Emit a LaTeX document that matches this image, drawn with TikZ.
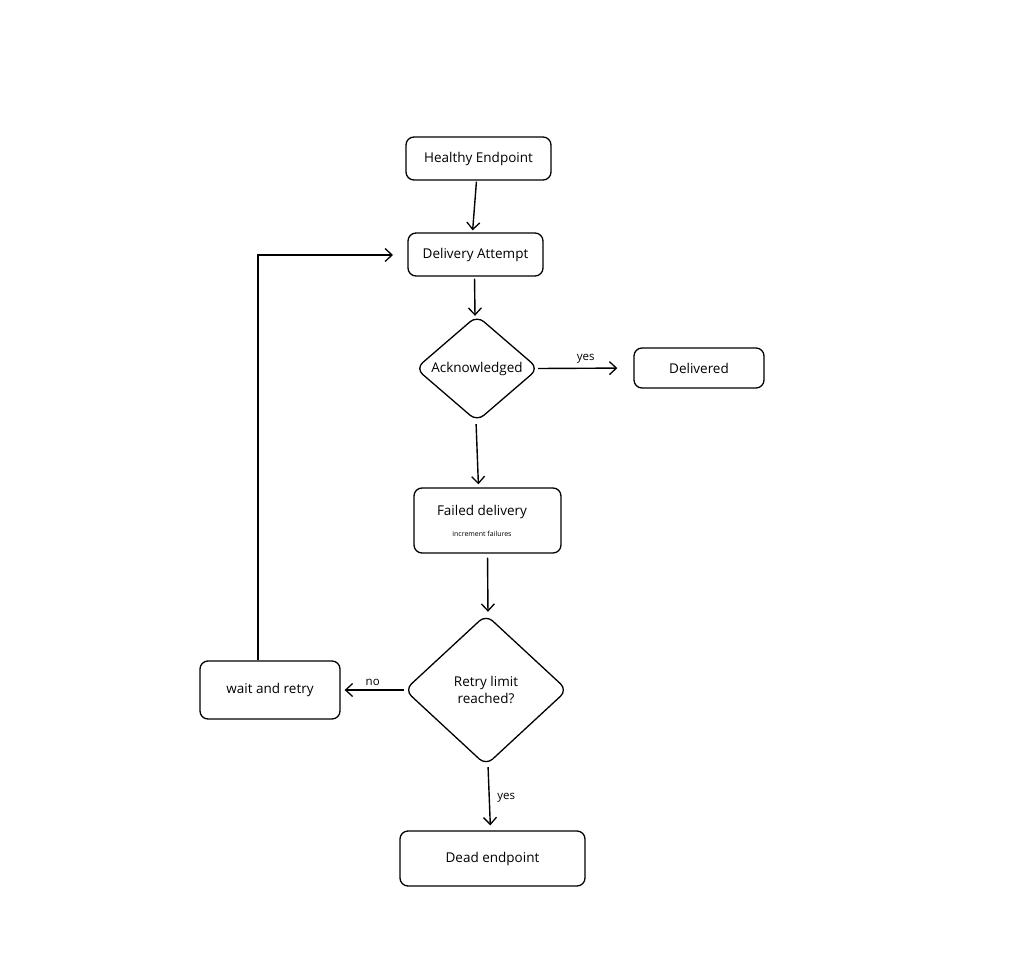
\documentclass[tikz,border=0pt]{standalone}
\usepackage{fontspec}
\setmainfont{Open Sans}
\usetikzlibrary{arrows.meta}
\begin{document}
\begin{tikzpicture}[x=1pt,y=-1pt,
  every node/.style={font=\fontsize{13.5}{17}\selectfont},
  box/.style={draw, line width=1.3pt, rounded corners=8pt, align=center, inner sep=0pt},
  dia/.style={draw=none, align=center, inner sep=0pt},
  dshape/.style={draw, line width=1.3pt, rounded corners=9pt},
  conn/.style={line width=1.4pt, -{Straight Barb[length=7pt,width=13pt,line width=1.3pt]}},
  lbl/.style={font=\fontsize{11.5}{13}\selectfont}
]
\useasboundingbox (0,0) rectangle (1024,968);

\node[box, minimum width=145pt, minimum height=43pt] (hea) at (478.5,158.5) {Healthy Endpoint};
\node[box, minimum width=135pt, minimum height=43pt] (del) at (475.5,254.5) {Delivery Attempt};
\node[dia, minimum width=122pt, minimum height=105pt] (ack) at (477,368.5) {Acknowledged};
\draw[dshape] (ack.north) -- (ack.east) -- (ack.south) -- (ack.west) -- cycle;
\node[box, minimum width=130pt, minimum height=40pt] (dlv) at (699,368) {Delivered};
\node[box, minimum width=147pt, minimum height=65pt] (fail) at (487.5,520.5) {};
\node (failt) at (482,512) {Failed delivery};
\node[font=\fontsize{7}{8}\selectfont] (failsub) at (482,534) {increment failures};
\node[dia, minimum width=162pt, minimum height=150pt] (ret) at (486,690) {Retry limit\\reached?};
\draw[dshape] (ret.north) -- (ret.east) -- (ret.south) -- (ret.west) -- cycle;
\node[box, minimum width=140pt, minimum height=58pt] (wait) at (270,690) {wait and retry};
\node[box, minimum width=185pt, minimum height=55pt] (dead) at (492.5,858.5) {Dead endpoint};

\coordinate (loopend) at (393,255);

\draw[conn, shorten <=1pt, shorten >=2pt] ([xshift=-2pt]hea.south) -- ([xshift=-3pt]del.north);
\draw[conn, shorten <=2pt] ([xshift=-1pt]del.south) -- ([xshift=-2pt]ack.north);
\draw[conn, shorten <=0pt, shorten >=16pt] (ack.east) -- node[lbl, above=1pt] {yes} (dlv.west);
\draw[conn, shorten <=3pt, shorten >=3pt] ([xshift=-1pt]ack.south) -- ([xshift=-9pt]fail.north);
\draw[conn, shorten <=4pt, shorten >=3pt] (fail.south) -- ([xshift=2pt]ret.north);
\draw[conn, shorten <=1pt, shorten >=4pt] (ret.west) -- node[lbl, above=0pt] {no} (wait.east);
\draw[conn, shorten <=2pt, shorten >=5pt] ([xshift=2pt]ret.south) -- node[lbl, right=4pt] {yes} ([xshift=-2pt]dead.north);
\draw[conn] ([xshift=-12pt]wait.north) |- (loopend);
\end{tikzpicture}
\end{document}
